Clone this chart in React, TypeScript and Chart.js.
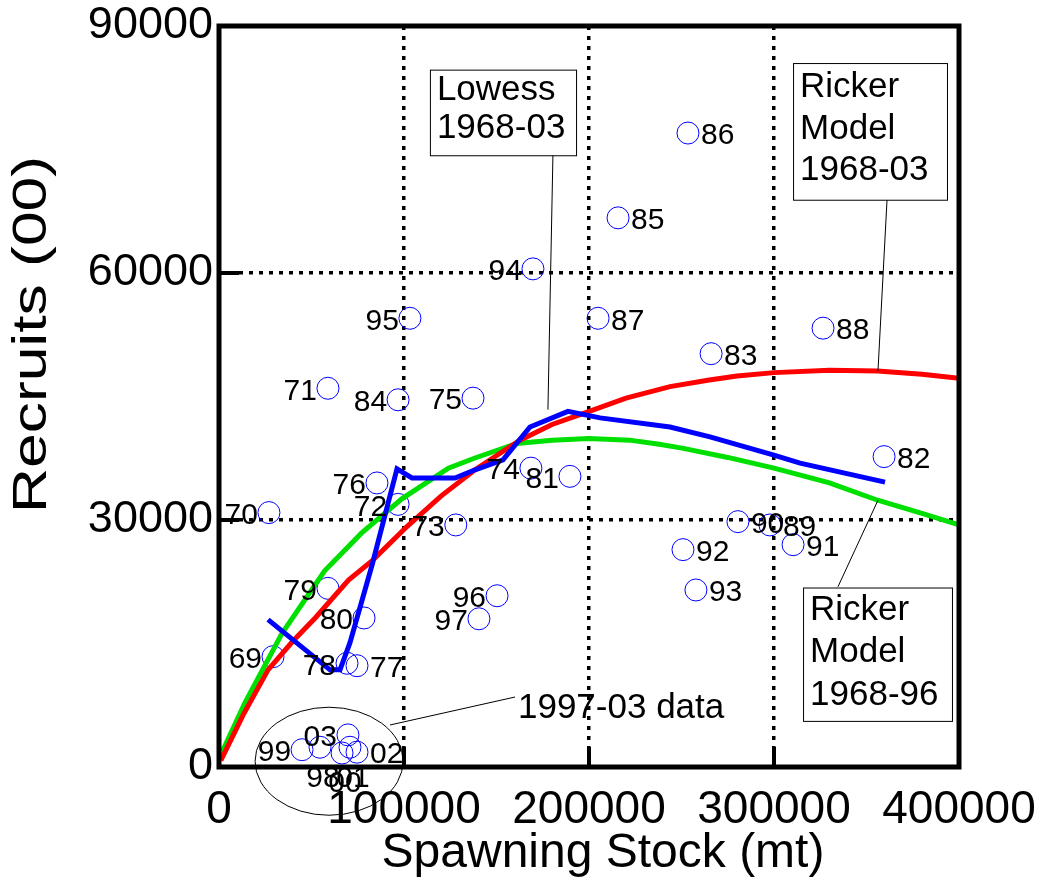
import React, { useEffect, useRef } from 'react';
import { Chart, registerables } from 'chart.js';

Chart.register(...registerables);

// ---- Data ----
const years = ['69', '70', '71', '72', '73', '74', '75', '76', '77', '78', '79', '80', '81', '82', '83', '84', '85', '86', '87', '88', '89', '90', '91', '92', '93', '94', '95', '96', '97', '98', '99', '00', '01', '02', '03'];
const spawningStock = [29200, 27000, 58900, 96800, 128000, 168600, 137300, 85400, 74600, 69200, 58900, 78400, 189700, 359500, 266000, 96800, 215700, 253500, 204900, 326500, 297800, 280500, 310300, 250800, 257800, 169700, 103200, 150300, 140500, 54600, 44900, 66500, 70800, 74600, 69700];
const recruits = [13400, 30900, 46000, 31900, 29400, 36300, 44800, 34500, 12300, 12600, 21700, 18100, 35300, 37700, 50200, 44600, 66700, 77000, 54500, 53300, 29400, 29800, 27000, 26400, 21500, 60500, 54500, 20800, 18000, 2400, 2100, 1700, 2400, 1800, 3900];
// which side of the circle the year label sits on (L = left, R = right, B = below)
const labelSide = ['L', 'L', 'L', 'L', 'L', 'L', 'L', 'L', 'R', 'L', 'L', 'L', 'L', 'R', 'R', 'L', 'R', 'R', 'R', 'R', 'R', 'R', 'R', 'R', 'R', 'L', 'L', 'L', 'L', 'B', 'L', 'B', 'B', 'R', 'L'];

const lowessX = [26500, 60000, 65400, 70800, 82700, 96200, 104300, 127600, 138400, 153500, 168100, 188600, 206000, 243800, 265400, 299500, 314100, 360000];
const lowessY = [17900, 11800, 11800, 15100, 24500, 36200, 35100, 35100, 36100, 37300, 41300, 43200, 42400, 41300, 40100, 37900, 36900, 34600];

const ricker6803X = [1000, 13000, 26500, 40000, 52000, 70000, 83000, 101600, 120000, 138400, 162700, 180000, 199000, 220000, 243800, 265000, 280000, 300000, 330000, 356000, 380000, 400000];
const ricker6803Y = [800, 6300, 11800, 15300, 18100, 22700, 25100, 29200, 32900, 36100, 39700, 41600, 43100, 44800, 46200, 47000, 47500, 47900, 48200, 48100, 47700, 47200];

const ricker6896X = [1000, 14000, 34000, 57000, 77000, 99000, 124000, 138000, 161000, 180000, 200000, 222000, 238000, 251000, 275000, 300000, 330000, 356000, 380000, 400000];
const ricker6896Y = [1500, 7800, 16200, 23800, 28400, 32600, 36300, 37500, 39300, 39700, 39900, 39700, 39200, 38700, 37600, 36300, 34500, 32400, 30800, 29400];

const xTickValues = [0, 100000, 200000, 300000, 400000];
const xTickLabels = ['0', '100000', '200000', '300000', '400000'];
const yTickValues = [0, 30000, 60000, 90000];
const yTickLabels = ['0', '30000', '60000', '90000'];

const xTitle = 'Spawning Stock (mt)';
const yTitle = 'Recruits (00)';

// ---- Annotations (in data coordinates) ----
const notes = [
  { lines: ['Lowess', '1968-03'], box: [114000, 84700, 193000, 74300], first: 30, lh: 38, lead: [[180500, 74300], [177800, 43400]] },
  { lines: ['Ricker', 'Model', '1968-03'], box: [310300, 85500, 393500, 68900], first: 34, lh: 41.5, lead: [[361100, 68900], [356200, 48100]] },
  { lines: ['Ricker', 'Model', '1968-96'], box: [315700, 21800, 396200, 5600], first: 32, lh: 42.5, lead: [[334600, 21900], [356200, 32400]] },
];
const clusterNote = { text: '1997-03 data', center: [59500, 700], radii: [40000, 6560], lead: [[92400, 5100], [160000, 8500]], textAt: [161600, 6000] };

const FONT = 'Arial, "Liberation Sans", Helvetica, sans-serif';

const pts = (xs: number[], ys: number[]) => xs.map((x, i) => ({ x, y: ys[i] }));

const overlayPlugin = {
  id: 'overlay',
  afterDatasetsDraw(chart: any) {
    const { ctx, scales } = chart;
    const xs = scales.x, ys = scales.y;
    ctx.save();
    ctx.fillStyle = '#000';
    ctx.font = `30px ${FONT}`;
    ctx.textBaseline = 'middle';
    years.forEach((lab, i) => {
      const cx = xs.getPixelForValue(spawningStock[i]);
      const cy = ys.getPixelForValue(recruits[i]);
      const side = labelSide[i];
      if (side === 'L') {
        ctx.textAlign = 'right';
        ctx.fillText(lab, cx - 11, cy + 3);
      } else if (side === 'R') {
        ctx.textAlign = 'left';
        ctx.fillText(lab, cx + 13, cy + 3);
      } else {
        ctx.textAlign = 'center';
        ctx.fillText(lab, cx + 3, cy + 31);
      }
    });
    ctx.restore();
  },
  afterDraw(chart: any) {
    const { ctx, chartArea: a, scales } = chart;
    const xs = scales.x, ys = scales.y;
    const X = (v: number) => xs.getPixelForValue(v);
    const Y = (v: number) => ys.getPixelForValue(v);
    ctx.save();

    // inward tick marks
    ctx.strokeStyle = '#000';
    ctx.lineWidth = 4;
    ctx.beginPath();
    xTickValues.slice(1, -1).forEach((v) => {
      ctx.moveTo(X(v), a.bottom);
      ctx.lineTo(X(v), a.bottom - 20);
    });
    yTickValues.slice(1, -1).forEach((v) => {
      ctx.moveTo(a.left, Y(v));
      ctx.lineTo(a.left + 20, Y(v));
    });
    ctx.stroke();

    // frame
    ctx.lineWidth = 5;
    ctx.strokeRect(a.left, a.top, a.right - a.left, a.bottom - a.top);

    // annotation boxes
    notes.forEach((n) => {
      const [x1, y1, x2, y2] = n.box;
      const l = X(x1), t = Y(y1), r = X(x2), b = Y(y2);
      ctx.lineWidth = 1;
      ctx.strokeStyle = '#000';
      ctx.beginPath();
      ctx.moveTo(X(n.lead[0][0]), Y(n.lead[0][1]));
      ctx.lineTo(X(n.lead[1][0]), Y(n.lead[1][1]));
      ctx.stroke();
      ctx.fillStyle = '#fff';
      ctx.fillRect(l, t, r - l, b - t);
      ctx.strokeRect(l + 0.5, t + 0.5, r - l, b - t);
      ctx.fillStyle = '#000';
      ctx.font = `35px ${FONT}`;
      ctx.textAlign = 'left';
      ctx.textBaseline = 'alphabetic';
      n.lines.forEach((s, i) => ctx.fillText(s, l + 7, t + n.first + i * n.lh));
    });

    // cluster ellipse + label
    const c = clusterNote;
    const ecx = X(c.center[0]), ecy = Y(c.center[1]);
    const erx = X(c.center[0] + c.radii[0]) - ecx;
    const ery = ecy - Y(c.center[1] + c.radii[1]);
    ctx.lineWidth = 1;
    ctx.strokeStyle = '#000';
    ctx.beginPath();
    ctx.ellipse(ecx, ecy, erx, ery, 0, 0, Math.PI * 2);
    ctx.stroke();
    ctx.beginPath();
    ctx.moveTo(X(c.lead[0][0]), Y(c.lead[0][1]));
    ctx.lineTo(X(c.lead[1][0]), Y(c.lead[1][1]));
    ctx.stroke();
    ctx.fillStyle = '#000';
    ctx.font = `35px ${FONT}`;
    ctx.textAlign = 'left';
    ctx.textBaseline = 'alphabetic';
    ctx.fillText(c.text, X(c.textAt[0]), Y(c.textAt[1]));

    // axis titles
    ctx.font = `48px ${FONT}`;
    ctx.textAlign = 'center';
    ctx.textBaseline = 'middle';
    ctx.fillText(xTitle, (a.left + a.right) / 2 + 14, a.bottom + 87);
    ctx.save();
    ctx.translate(33, (a.top + a.bottom) / 2 - 62);
    ctx.rotate(-Math.PI / 2);
    ctx.scale(1.3, 1);
    ctx.fillText(yTitle, 0, 0);
    ctx.restore();

    ctx.restore();
  },
};

const gridColor = (edge: number[]) => (c: any) =>
  c.tick && (c.tick.value === edge[0] || c.tick.value === edge[1]) ? 'rgba(0,0,0,0)' : '#000';

export default function App() {
  const ref = useRef<HTMLCanvasElement>(null);

  useEffect(() => {
    if (!ref.current) return;
    const chart = new Chart(ref.current, {
      type: 'scatter',
      data: {
        datasets: [
          {
            label: 'Lowess 1968-03',
            data: pts(lowessX, lowessY),
            showLine: true,
            borderColor: '#0000ff',
            borderWidth: 5,
            pointRadius: 0,
            order: 0,
          },
          {
            label: 'Ricker Model 1968-03',
            data: pts(ricker6803X, ricker6803Y),
            showLine: true,
            borderColor: '#ff0000',
            borderWidth: 5,
            pointRadius: 0,
            order: 1,
          },
          {
            label: 'Ricker Model 1968-96',
            data: pts(ricker6896X, ricker6896Y),
            showLine: true,
            borderColor: '#00e000',
            borderWidth: 5,
            pointRadius: 0,
            order: 2,
          },
          {
            label: 'Observed',
            data: pts(spawningStock, recruits),
            showLine: false,
            pointRadius: 11,
            pointBorderColor: '#0000ff',
            pointBackgroundColor: 'rgba(0,0,0,0)',
            pointBorderWidth: 1,
            order: 3,
          },
        ],
      },
      options: {
        animation: false,
        responsive: false,
        devicePixelRatio: 1,
        layout: { padding: { top: 26, right: 90, left: 0, bottom: 0 } },
        plugins: { legend: { display: false }, tooltip: { enabled: false } },
        scales: {
          x: {
            type: 'linear',
            min: 0,
            max: 400000,
            afterBuildTicks: (s: any) => {
              s.ticks = xTickValues.map((v) => ({ value: v }));
            },
            afterFit: (s: any) => {
              s.height = 119;
              s.paddingLeft = 0;
              s.paddingRight = 0;
            },
            ticks: {
              callback: (_v: any, i: number) => xTickLabels[i],
              color: '#000',
              font: { family: FONT, size: 46, lineHeight: 1 },
              padding: 20,
              maxRotation: 0,
              autoSkip: false,
            },
            grid: { color: gridColor([0, 400000]), lineWidth: 3.5, drawTicks: false },
            border: { display: false, dash: [4, 6] },
          },
          y: {
            type: 'linear',
            min: 0,
            max: 90000,
            afterBuildTicks: (s: any) => {
              s.ticks = yTickValues.map((v) => ({ value: v }));
            },
            afterFit: (s: any) => {
              s.width = 219;
              s.paddingTop = 0;
              s.paddingBottom = 0;
            },
            ticks: {
              callback: (_v: any, i: number) => yTickLabels[i],
              color: '#000',
              font: { family: FONT, size: 45, lineHeight: 1 },
              padding: 6,
              autoSkip: false,
            },
            grid: { color: gridColor([0, 90000]), lineWidth: 3.5, drawTicks: false },
            border: { display: false, dash: [4, 6] },
          },
        },
      },
      plugins: [overlayPlugin],
    } as any);
    return () => chart.destroy();
  }, []);

  return (
    <div style={{ position: 'fixed', left: 0, top: 0, width: 1049, height: 886, background: '#fff' }}>
      <canvas ref={ref} width={1049} height={886} style={{ display: 'block', width: 1049, height: 886 }} />
    </div>
  );
}
